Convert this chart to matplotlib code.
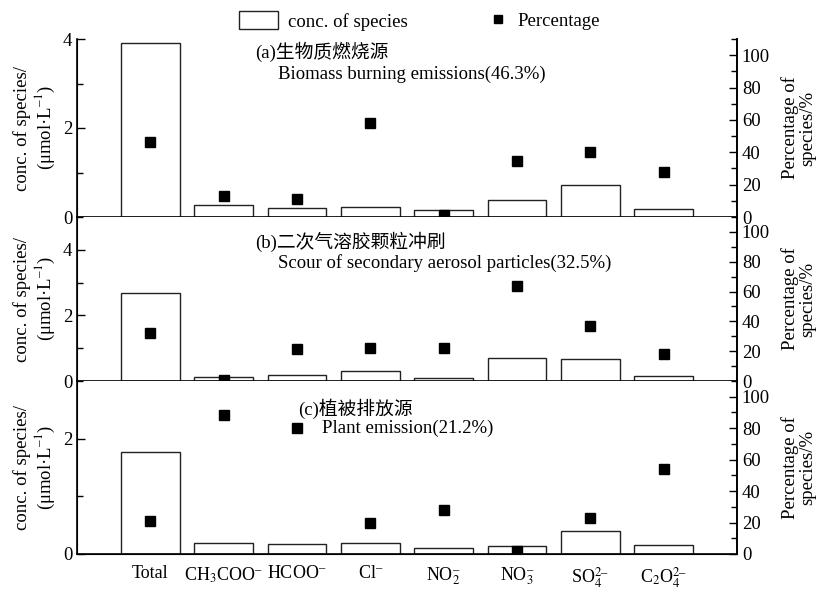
import numpy as np
import matplotlib
matplotlib.use('Agg')
import matplotlib.pyplot as plt
from matplotlib.patches import Patch
from matplotlib.lines import Line2D
from matplotlib.ticker import MultipleLocator

plt.rcParams['font.family'] = ['Liberation Serif', 'Noto Sans CJK SC']
plt.rcParams['mathtext.fontset'] = 'stix'
plt.rcParams['font.size'] = 13.5

species = ['Total', 'CH$_3$COO$^{–}$', 'HCOO$^{–}$', 'Cl$^{–}$', 'NO$_2^{–}$',
           'NO$_3^{–}$', 'SO$_4^{2–}$', 'C$_2$O$_4^{2–}$']

# concentration (umol/L) and percentage (%) for each source factor
conc_a = [3.90, 0.28, 0.21, 0.23, 0.15, 0.375, 0.73, 0.17]
pct_a = [46.3, 13.0, 10.9, 58.1, 1.0, 34.3, 40.2, 28.0]
conc_b = [2.69, 0.13, 0.19, 0.29, 0.08, 0.69, 0.66, 0.14]
pct_b = [32.5, 1.0, 21.5, 22.0, 21.9, 63.8, 37.2, 18.4]
conc_c = [1.77, 0.19, 0.18, 0.19, 0.10, 0.14, 0.40, 0.15]
pct_c = [21.2, 88.2, 80.0, 19.7, 27.8, 1.7, 22.9, 54.0]

titles_cn = ['(a)生物质燃烧源', '(b)二次气溶胶颗粒冲刷', '(c)植被排放源']
titles_en = ['Biomass burning emissions(46.3%)',
             'Scour of secondary aerosol particles(32.5%)',
             'Plant emission(21.2%)']
left_max = [4, 5, 3]

W, H = 822, 589
fig = plt.figure(figsize=(W / 100, H / 100), dpi=100)

# panel boxes in pixels: (top, bottom)
boxes = [(39, 217), (217, 381), (381, 554)]
x0, x1 = 77, 737
title_pos = [((255, 52), (278, 74)), ((255, 242), (278, 263)), ((298, 409), (322, 428))]

data = [(conc_a, pct_a), (conc_b, pct_b), (conc_c, pct_c)]
x = np.arange(len(species))

for i, ((top, bot), (conc, pct)) in enumerate(zip(boxes, data)):
    ax = fig.add_axes([x0 / W, 1 - bot / H, (x1 - x0) / W, (bot - top) / H])
    ax.bar(x, conc, width=0.8, facecolor='white', edgecolor='#222222', linewidth=1.0, zorder=2)
    ax.set_xlim(-1, 8)
    ax.set_ylim(0, left_max[i])
    ax.yaxis.set_major_locator(MultipleLocator(2))
    ax.yaxis.set_minor_locator(MultipleLocator(1))
    ax.tick_params(axis='y', which='both', direction='in', labelsize=13.5)
    ax.tick_params(axis='y', which='major', length=6, width=1)
    ax.tick_params(axis='y', which='minor', length=4, width=1)
    ax.spines['top'].set_visible(False)
    for s in ['left', 'right', 'bottom']:
        ax.spines[s].set_linewidth(1.2)

    ax2 = ax.twinx()
    ax2.plot(x, pct, 's', color='black', markersize=7, zorder=3)
    ax2.set_ylim(0, 110)
    ax2.yaxis.set_major_locator(MultipleLocator(20))
    ax2.yaxis.set_minor_locator(MultipleLocator(10))
    ax2.tick_params(axis='y', which='both', direction='in', labelsize=13.5)
    ax2.tick_params(axis='y', which='major', length=6, width=1)
    ax2.tick_params(axis='y', which='minor', length=4, width=1)
    ax2.spines['top'].set_visible(False)
    ax2.spines['right'].set_linewidth(1.2)

    ymid = 1 - (top + bot) / 2 / H
    fig.text(35 / W, ymid, 'conc. of species/\n(μmol·L$^{–1}$)', rotation=90,
             ha='center', va='center', linespacing=1.15, fontsize=13.5)
    fig.text(799 / W, ymid, 'Percentage of\nspecies/%', rotation=90,
             ha='center', va='center', linespacing=1.0, fontsize=13.5)

    if i < 2:
        ax.set_xticks([])
    else:
        ax.set_xticks(x)
        ax.set_xticklabels(species, fontsize=13)
        ax.tick_params(axis='x', length=0, pad=8)

    (cx, cy), (ex, ey) = title_pos[i]
    fig.text(cx / W, 1 - cy / H, titles_cn[i], fontsize=13.5, va='center', ha='left')
    fig.text(ex / W, 1 - ey / H, titles_en[i], fontsize=13.5, va='center', ha='left')

h1 = Patch(facecolor='white', edgecolor='#222222', linewidth=1.0)
h2 = Line2D([], [], marker='s', color='black', linestyle='none', markersize=6)
fig.legend([h1], ['conc. of species'], loc='center left', frameon=False,
           bbox_to_anchor=(222 / W, 1 - 21 / H), fontsize=13.5, handlelength=2.1,
           handleheight=1.1, handletextpad=0.5)
fig.legend([h2], ['Percentage'], loc='center left', frameon=False,
           bbox_to_anchor=(472 / W, 1 - 21 / H), fontsize=13.5, handlelength=1.0,
           handletextpad=0.5)

fig.savefig('out.png', dpi=100)
